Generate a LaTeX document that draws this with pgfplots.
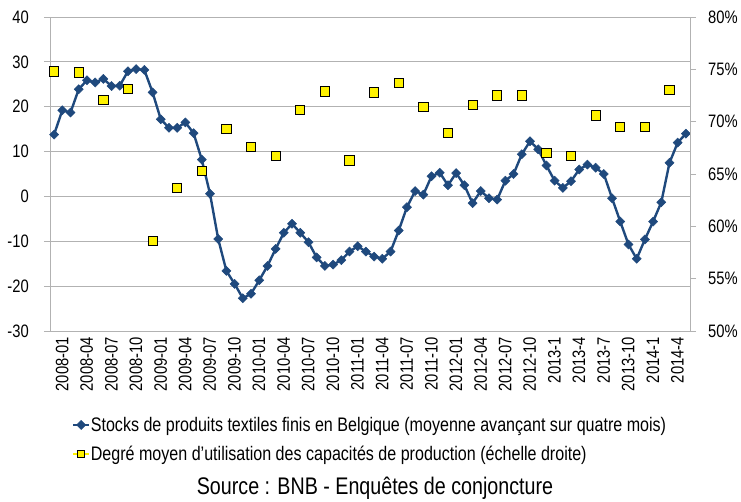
\documentclass[border=0pt]{standalone}
\usepackage{pgfplots}
\pgfplotsset{compat=1.18}
\usepackage{pgfplotstable}
\usepackage{fontspec}
\setmainfont{Liberation Sans}[FakeStretch=0.82]
\definecolor{navy}{RGB}{31,73,125}
\definecolor{gridgray}{RGB}{178,178,178}

\pgfplotstableread{
n v
1 13.8
2 19.2
3 18.7
4 23.9
5 25.9
6 25.4
7 26.2
8 24.6
9 24.7
10 27.9
11 28.4
12 28.2
13 23.2
14 17.2
15 15.3
16 15.3
17 16.5
18 14.1
19 8.2
20 0.6
21 -9.5
22 -16.6
23 -19.5
24 -22.7
25 -21.7
26 -18.7
27 -15.5
28 -11.7
29 -8.1
30 -6.1
31 -8.1
32 -10.2
33 -13.6
34 -15.5
35 -15.2
36 -14.2
37 -12.3
38 -11.1
39 -12.3
40 -13.4
41 -13.9
42 -12.3
43 -7.6
44 -2.4
45 1.2
46 0.4
47 4.5
48 5.3
49 2.5
50 5.2
51 2.5
52 -1.5
53 1.2
54 -0.4
55 -0.7
56 3.5
57 5.0
58 9.4
59 12.3
60 10.5
61 6.9
62 3.5
63 1.9
64 3.4
65 6.0
66 7.1
67 6.4
68 5.0
69 -0.4
70 -5.6
71 -10.7
72 -13.9
73 -9.6
74 -5.6
75 -1.3
76 7.5
77 12.0
78 14.0
}\stocks

\pgfplotstableread{
n v
1 74.8
4 74.7
7 72.1
10 73.1
13 58.6
16 63.7
19 65.3
22 69.3
25 67.6
28 66.7
31 71.1
34 72.9
37 66.3
40 72.8
43 73.7
46 71.4
49 68.9
52 71.6
55 72.5
58 72.5
61 67.0
64 66.7
67 70.6
70 69.5
73 69.5
76 73.0
}\capa

\begin{document}
\begin{tikzpicture}
\path[use as bounding box] (-50pt,-170pt) rectangle (691pt,331pt);
\begin{axis}[
  at={(0pt,0pt)}, anchor=south west,
  scale only axis, width=640pt, height=314pt,
  xmin=0.5, xmax=78.5, ymin=-30, ymax=40,
  ytick={-30,-20,...,40},
  axis x line*=bottom, axis y line*=left,
  axis line style={draw=gridgray, line width=0.8pt, -},
  ymajorgrids, grid style={gridgray, line width=0.8pt},
  tick align=outside, major tick length=6pt,
  ytick style={gridgray, line width=0.8pt},
  xtick style={draw=none},
  xtick={1,4,...,76},
  xticklabels={2008-01,2008-04,2008-07,2008-10,2009-01,2009-04,2009-07,2009-10,2010-01,2010-04,2010-07,2010-10,2011-01,2011-04,2011-07,2011-10,2012-01,2012-04,2012-07,2012-10,2013-1,2013-4,2013-7,2013-10,2014-1,2014-4},
  xticklabel style={rotate=90, anchor=east, font=\fontsize{18}{20}\selectfont, inner sep=0pt, yshift=-8pt},
  yticklabel style={font=\fontsize{18}{20}\selectfont, inner sep=0pt, xshift=-15pt},
  /pgf/number format/assume math mode=true,
  legend style={at={(0.034,-0.272)}, anchor=north west, draw=none, fill=none,
    font=\fontsize{19.6}{22}\selectfont, row sep=12pt, inner sep=0pt,
    nodes={inner sep=0.5pt}},
  legend cell align=left,
  legend image code/.code={\draw[mark repeat=2,mark phase=2,#1] plot coordinates {(0pt,0pt) (8pt,0pt) (16pt,0pt)};},
]
\addplot[navy, line width=2.4pt, mark=square*, mark size=3.2pt,
  mark options={rotate=45, fill=navy, draw=navy, line width=0.5pt}] table[x=n,y=v] {\stocks};
\addlegendentry{Stocks de produits textiles finis en Belgique (moyenne avançant sur quatre mois)}
\addlegendimage{yellow, line width=1.8pt, mark=square*, mark size=3.5pt, mark options={fill=yellow, draw=black, line width=0.8pt}}
\addlegendentry{Degré moyen d'utilisation des capacités de production (échelle droite)}
\end{axis}
\begin{axis}[
  at={(0pt,0pt)}, anchor=south west,
  scale only axis, width=640pt, height=314pt,
  xmin=0.5, xmax=78.5, ymin=50, ymax=80,
  ytick={50,55,...,80},
  axis x line=none, axis y line*=right,
  axis line style={draw=gridgray, line width=0.8pt, -},
  tick align=outside, major tick length=6pt,
  ytick style={gridgray, line width=0.8pt},
  yticklabel={\pgfmathprintnumber{\tick}\%},
  yticklabel style={font=\fontsize{18}{20}\selectfont, inner sep=0pt, xshift=12pt},
  /pgf/number format/assume math mode=true,
]
\addplot[only marks, mark=square*, mark size=4.6pt,
  mark options={fill=yellow, draw=black, line width=0.8pt}] table[x=n,y=v] {\capa};
\end{axis}
\node at (325pt,-157pt) {\fontsize{24}{28}\selectfont Source : BNB - Enquêtes de conjoncture};
\end{tikzpicture}
\end{document}
